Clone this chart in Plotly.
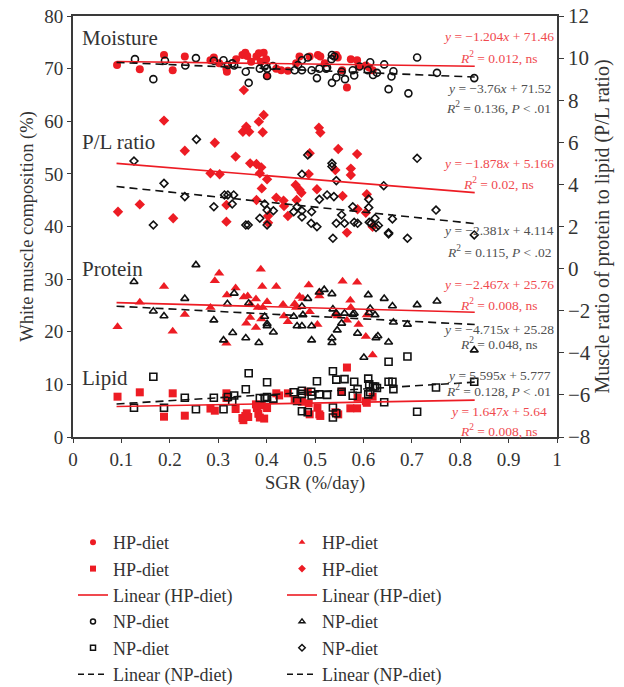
import plotly.graph_objects as go

# ---------------- data ----------------
moist_hp_x = [0.091,0.138,0.188,0.206,0.231,0.284,0.291,0.302,0.317,0.318,0.337,0.350,0.356,0.360,0.368,0.379,0.384,0.388,0.394,0.399,0.401,0.420,0.430,0.444,0.461,0.468,0.489,0.506,0.511,0.520,0.544,0.547,0.556,0.566,0.574,0.587,0.590,0.605,0.612,0.619]
moist_hp_y = [70.7,69.9,72.6,69.7,72.3,71.6,72.1,71.0,70.0,69.4,71.8,72.6,73.0,72.4,71.3,72.3,72.9,71.3,73.0,71.8,68.6,70.0,69.7,69.6,71.0,72.3,72.3,72.6,72.3,71.0,72.6,72.1,69.7,66.4,71.8,71.6,70.4,70.6,70.2,69.7]

moist_np_x = [0.128,0.166,0.190,0.232,0.254,0.291,0.311,0.320,0.329,0.333,0.357,0.363,0.386,0.396,0.401,0.401,0.413,0.458,0.465,0.473,0.473,0.485,0.493,0.504,0.509,0.523,0.525,0.535,0.534,0.540,0.535,0.544,0.555,0.562,0.578,0.581,0.592,0.609,0.614,0.620,0.628,0.643,0.652,0.658,0.662,0.693,0.711,0.752,0.829]
moist_np_y = [71.8,68.0,71.5,70.6,72.0,71.5,71.6,70.7,71.0,70.6,69.4,67.3,70.0,70.4,70.0,68.6,70.5,69.7,70.7,71.6,69.7,72.1,69.7,68.2,70.0,70.0,70.2,72.6,71.8,72.3,67.3,68.3,69.4,68.0,69.7,68.7,70.4,69.7,71.2,68.8,69.2,70.8,66.1,68.5,69.5,65.3,72.1,69.2,68.2]

pl_hp_x = [0.093,0.138,0.188,0.207,0.231,0.284,0.293,0.303,0.317,0.317,0.336,0.351,0.353,0.358,0.364,0.366,0.379,0.379,0.384,0.386,0.389,0.390,0.392,0.394,0.401,0.403,0.403,0.420,0.435,0.436,0.444,0.460,0.462,0.468,0.472,0.487,0.489,0.504,0.508,0.511,0.542,0.548,0.557,0.566,0.574,0.574,0.587,0.588,0.605,0.607,0.619]
pl_hp_y = [2.70,3.05,7.03,2.39,5.60,4.53,5.98,4.48,3.02,2.23,5.32,6.50,8.48,6.74,6.50,5.00,4.97,3.26,6.98,4.53,4.81,3.81,6.48,7.30,4.24,2.50,2.18,3.37,3.23,2.97,2.50,3.97,3.26,3.75,3.60,4.49,5.48,3.77,6.69,6.46,4.68,5.68,3.45,1.71,4.75,4.45,5.44,2.82,2.65,3.53,1.99]

pl_np_x = [0.126,0.166,0.188,0.231,0.255,0.291,0.313,0.320,0.329,0.332,0.357,0.362,0.386,0.396,0.401,0.401,0.414,0.456,0.463,0.473,0.473,0.473,0.485,0.492,0.493,0.504,0.509,0.525,0.535,0.535,0.537,0.539,0.544,0.544,0.555,0.561,0.578,0.581,0.588,0.611,0.611,0.612,0.616,0.624,0.626,0.631,0.642,0.652,0.652,0.660,0.711,0.691,0.750,0.829]
pl_np_y = [5.11,2.07,4.05,3.42,6.14,2.94,3.50,3.50,3.07,3.50,2.07,2.07,2.39,3.07,2.78,2.07,2.75,2.70,2.94,4.48,2.75,2.45,5.40,2.15,2.70,1.99,3.29,3.50,5.00,4.85,1.44,3.42,4.18,2.15,2.55,2.15,2.94,2.20,2.15,3.30,2.90,2.20,2.15,2.39,1.95,2.05,3.94,1.70,1.65,2.36,5.24,1.44,2.78,1.60]

prot_hp_x = [0.092,0.138,0.188,0.206,0.231,0.284,0.293,0.302,0.317,0.318,0.336,0.353,0.361,0.367,0.358,0.366,0.378,0.378,0.388,0.382,0.392,0.391,0.401,0.389,0.420,0.434,0.436,0.444,0.458,0.461,0.468,0.475,0.487,0.489,0.505,0.509,0.509,0.542,0.547,0.557,0.566,0.573,0.574,0.587,0.590,0.605,0.607,0.619]
prot_hp_y = [20.96,25.6,28.6,20.1,23.3,24.6,29.7,31.1,17.8,27.0,28.3,26.6,26.8,25.2,21.6,22.7,20.8,26.2,31.9,24.6,24.6,28.6,25.7,22.4,28.6,25.2,23.0,21.9,25.3,24.6,26.7,26.3,28.9,23.8,21.4,27.5,26.8,23.3,23.0,29.6,22.2,26.0,24.6,29.4,21.4,19.1,23.2,15.6]

prot_np_x = [0.126,0.166,0.188,0.231,0.254,0.291,0.311,0.319,0.330,0.333,0.357,0.363,0.384,0.396,0.401,0.401,0.414,0.456,0.463,0.473,0.473,0.475,0.485,0.493,0.493,0.509,0.519,0.535,0.537,0.535,0.535,0.544,0.546,0.555,0.561,0.578,0.581,0.588,0.601,0.610,0.612,0.614,0.624,0.626,0.630,0.643,0.652,0.660,0.662,0.691,0.711,0.752,0.829]
prot_np_y = [29.5,23.9,23.0,26.3,32.7,22.2,18.4,25.3,19.8,27.3,18.8,25.4,17.9,22.9,21.5,21.1,19.9,22.9,21.1,21.1,24.8,23.2,26.3,21.1,18.4,27.5,28.0,27.2,24.3,18.8,17.9,23.5,20.3,21.6,23.5,23.3,23.5,19.7,15.1,27.0,23.6,24.4,23.2,18.8,19.2,26.3,18.0,24.9,21.8,21.4,25.1,25.8,16.5]

lip_hp_x = [0.092,0.138,0.188,0.206,0.231,0.284,0.293,0.317,0.317,0.336,0.350,0.352,0.356,0.359,0.362,0.378,0.380,0.383,0.386,0.390,0.395,0.401,0.420,0.426,0.444,0.458,0.473,0.487,0.489,0.485,0.505,0.509,0.511,0.542,0.548,0.555,0.566,0.573,0.587,0.588,0.605,0.607,0.619]
lip_hp_y = [7.66,8.49,3.86,8.30,4.05,5.40,5.00,8.30,7.40,5.32,3.60,3.20,4.00,4.50,3.80,6.20,5.50,4.40,3.70,6.00,3.50,5.50,8.30,7.90,8.30,7.00,6.70,6.40,4.31,8.60,5.57,4.30,4.00,4.70,4.30,8.60,13.2,5.45,5.45,7.47,6.80,6.50,7.66]

lip_np_x = [0.126,0.166,0.188,0.231,0.254,0.291,0.311,0.320,0.329,0.333,0.357,0.363,0.386,0.396,0.401,0.401,0.414,0.456,0.463,0.473,0.473,0.473,0.485,0.492,0.493,0.504,0.509,0.525,0.537,0.537,0.537,0.544,0.544,0.561,0.555,0.578,0.581,0.588,0.610,0.612,0.614,0.620,0.624,0.628,0.610,0.643,0.652,0.652,0.660,0.662,0.691,0.711,0.750,0.829]
lip_np_y = [5.57,11.46,5.57,7.47,5.26,7.47,5.26,7.60,6.80,7.90,9.06,12.1,7.40,7.40,7.60,10.4,7.30,8.49,6.84,8.80,8.20,4.90,4.70,8.60,7.90,10.6,8.10,8.00,12.5,5.60,3.70,4.50,10.9,11.0,8.60,7.85,10.5,9.10,11.1,10.0,8.50,9.60,9.60,9.30,8.10,6.60,14.3,10.5,10.5,9.10,15.3,4.80,9.40,10.5]

# regression lines (slope, intercept) and statistics
fit_x_range = [0.09, 0.83]
components = ["Moisture", "P/L ratio", "Protein", "Lipid"]
hp_slopes = [-1.204, -1.878, -2.467, 1.647]
hp_inters = [71.46, 5.166, 25.76, 5.64]
hp_stats = ["0.012, ns", "0.02, ns", "0.008, ns", "0.008, ns"]
np_slopes = [-3.76, -2.381, -4.715, 5.595]
np_inters = [71.52, 4.114, 25.28, 5.777]
np_stats = ["0.136, <i>P</i> &lt; .01", "0.115, <i>P</i> &lt; .02", "0.048, ns", "0.128, <i>P</i> &lt; .01"]

x_ticks = [0, 0.1, 0.2, 0.3, 0.4, 0.5, 0.6, 0.7, 0.8, 0.9, 1]
x_tick_labels = ["0", "0.1", "0.2", "0.3", "0.4", "0.5", "0.6", "0.7", "0.8", "0.9", "1"]

# legend entries (two columns, row-major order)
legend_names = ["HP-diet", "HP-diet", "HP-diet", "HP-diet",
                "Linear (HP-diet)", "Linear (HP-diet)",
                "NP-diet", "NP-diet", "NP-diet", "NP-diet",
                "Linear (NP-diet)", "Linear (NP-diet)"]

# ---------------- styling ----------------
RED = "#ED1C24"
RED_TXT = "#F0494E"
BLK = "#111111"
GRAY_TXT = "#505050"
AX = "#3a3a3a"
TXT = "#333333"
FONT = "Liberation Serif"
DASH = "8px,5px"

fig = go.Figure()

def pts(x, y, sym, color, size, yaxis, open_=False):
    mk = dict(symbol=sym, size=size, color=color)
    mk["line"] = dict(color=color, width=1.6) if open_ else dict(width=0)
    return go.Scatter(x=x, y=y, mode="markers", marker=mk, yaxis=yaxis,
                      showlegend=False, hoverinfo="x+y")

def fit_line(i, slopes, inters, color, dash, yaxis):
    xs = fit_x_range
    ys = [slopes[i] * v + inters[i] for v in xs]
    return go.Scatter(x=xs, y=ys, mode="lines", yaxis=yaxis,
                      line=dict(color=color, width=1.6, dash=dash), showlegend=False)

# points
fig.add_trace(pts(moist_hp_x, moist_hp_y, "circle", RED, 8, "y"))
fig.add_trace(pts(moist_np_x, moist_np_y, "circle-open", BLK, 7, "y", True))
fig.add_trace(pts(prot_hp_x, prot_hp_y, "triangle-up", RED, 9, "y"))
fig.add_trace(pts(prot_np_x, prot_np_y, "triangle-up-open", BLK, 7, "y", True))
fig.add_trace(pts(lip_hp_x, lip_hp_y, "square", RED, 8, "y"))
fig.add_trace(pts(lip_np_x, lip_np_y, "square-open", BLK, 7, "y", True))
# fit lines
for i in [0, 2, 3]:
    fig.add_trace(fit_line(i, hp_slopes, hp_inters, RED, "solid", "y"))
    fig.add_trace(fit_line(i, np_slopes, np_inters, BLK, DASH, "y"))
fig.add_trace(pts(pl_hp_x, pl_hp_y, "diamond", RED, 8, "y2"))
fig.add_trace(pts(pl_np_x, pl_np_y, "diamond-open", BLK, 6, "y2", True))
fig.add_trace(fit_line(1, hp_slopes, hp_inters, RED, "solid", "y2"))
fig.add_trace(fit_line(1, np_slopes, np_inters, BLK, DASH, "y2"))

# legend-only entries (small symbols as in the reference legend)
leg_styles = [
    dict(mode="markers", marker=dict(symbol="circle", size=6, color=RED)),
    dict(mode="markers", marker=dict(symbol="triangle-up", size=6, color=RED)),
    dict(mode="markers", marker=dict(symbol="square", size=6, color=RED)),
    dict(mode="markers", marker=dict(symbol="diamond", size=6, color=RED)),
    dict(mode="lines", line=dict(color=RED, width=1.6)),
    dict(mode="lines", line=dict(color=RED, width=1.6)),
    dict(mode="markers", marker=dict(symbol="circle-open", size=5, color=BLK, line=dict(width=1.5, color=BLK))),
    dict(mode="markers", marker=dict(symbol="triangle-up-open", size=5, color=BLK, line=dict(width=1.5, color=BLK))),
    dict(mode="markers", marker=dict(symbol="square-open", size=5, color=BLK, line=dict(width=1.5, color=BLK))),
    dict(mode="markers", marker=dict(symbol="diamond-open", size=5, color=BLK, line=dict(width=1.5, color=BLK))),
    dict(mode="lines", line=dict(color=BLK, width=1.6, dash="6px,4px")),
    dict(mode="lines", line=dict(color=BLK, width=1.6, dash="6px,4px")),
]
for name, st in zip(legend_names, leg_styles):
    fig.add_trace(go.Scatter(x=[None], y=[None], name=name, showlegend=True, **st))

# ---------------- annotations ----------------
label_y = [75.8, 56.1, 31.9, 11.2]
for name, yy in zip(components, label_y):
    fig.add_annotation(x=0.015, y=yy, xref="x", yref="y", text=name, showarrow=False,
                       xanchor="left", yanchor="middle",
                       font=dict(family=FONT, size=21, color=TXT))

def fmt_eq(s, b):
    sign = "+" if b >= 0 else "−"
    sl = ("−" + f"{abs(s):g}") if s < 0 else f"{s:g}"
    return f"<i>y</i> = {sl}<i>x</i> {sign} {abs(b):g}"

eq_y = {
    "Moisture": [(76.2, 72.2, "hp"), (66.3, 62.7, "np")],
    "P/L ratio": [(51.9, 48.1, "hp"), (39.3, 35.3, "np")],
    "Protein": [(28.9, 25.1, "hp"), (20.5, 17.7, "np")],
    "Lipid": [(11.6, 8.9, "np"), (4.9, 1.3, "hp")],
}
for i, comp in enumerate(components):
    for y_eq, y_r, grp in eq_y[comp]:
        if grp == "hp":
            eq = fmt_eq(hp_slopes[i], hp_inters[i]); r = hp_stats[i]; col = RED_TXT
        else:
            eq = fmt_eq(np_slopes[i], np_inters[i]); r = np_stats[i]; col = GRAY_TXT
        fig.add_annotation(x=0.88, y=y_eq, xref="x", yref="y", text=eq, showarrow=False,
                           xanchor="center", yanchor="middle",
                           font=dict(family=FONT, size=13.5, color=col))
        fig.add_annotation(x=0.88, y=y_r, xref="x", yref="y",
                           text="<i>R</i><sup>2</sup> = " + r, showarrow=False,
                           xanchor="center", yanchor="middle",
                           font=dict(family=FONT, size=13.5, color=col))

# ---------------- layout ----------------
tickfont = dict(family=FONT, size=19, color=TXT)
fig.update_layout(
    width=624, height=687,
    margin=dict(l=73, r=67, t=16, b=250, autoexpand=False),
    paper_bgcolor="white", plot_bgcolor="white",
    font=dict(family=FONT, color=TXT),
    xaxis=dict(range=[0, 1], tickvals=x_ticks, ticktext=x_tick_labels, automargin=False,
               showgrid=False, zeroline=False, showline=True, linecolor=AX, linewidth=1.5,
               mirror=True, ticks="outside", ticklen=4, tickcolor=AX, tickwidth=1.2,
               tickfont=tickfont,
               title=dict(text="SGR (%/day)", font=dict(family=FONT, size=18.5, color=TXT),
                          standoff=8)),
    yaxis=dict(range=[0, 80], dtick=10, showgrid=False, zeroline=False, showline=True,
               automargin=False,
               linecolor=AX, linewidth=2, ticks="outside", ticklen=4, tickcolor=AX,
               tickwidth=1.2, tickfont=tickfont,
               title=dict(text="White muscle composition (%)",
                          font=dict(family=FONT, size=18.5, color=TXT), standoff=6)),
    yaxis2=dict(range=[-8, 12], dtick=2, overlaying="y", side="right", showgrid=False,
                automargin=False,
                zeroline=False, showline=True, linecolor=AX, linewidth=1.5, ticks="outside",
                ticklen=5, tickcolor=AX, tickwidth=1.2,
                tickfont=dict(family=FONT, size=21, color=TXT),
                title=dict(text="Muscle ratio of protein to lipid (P/L ratio)",
                           font=dict(family=FONT, size=20, color=TXT), standoff=4)),
    legend=dict(orientation="h", x=0, xanchor="left", yref="container",
                y=1 - 524 / 687, yanchor="top",
                entrywidth=164, entrywidthmode="pixels",
                font=dict(family=FONT, size=18, color=TXT),
                bgcolor="rgba(0,0,0,0)", tracegroupgap=0),
)

fig.write_html("out.html", config={"displayModeBar": False},
               post_script="document.body.style.margin='0';")
